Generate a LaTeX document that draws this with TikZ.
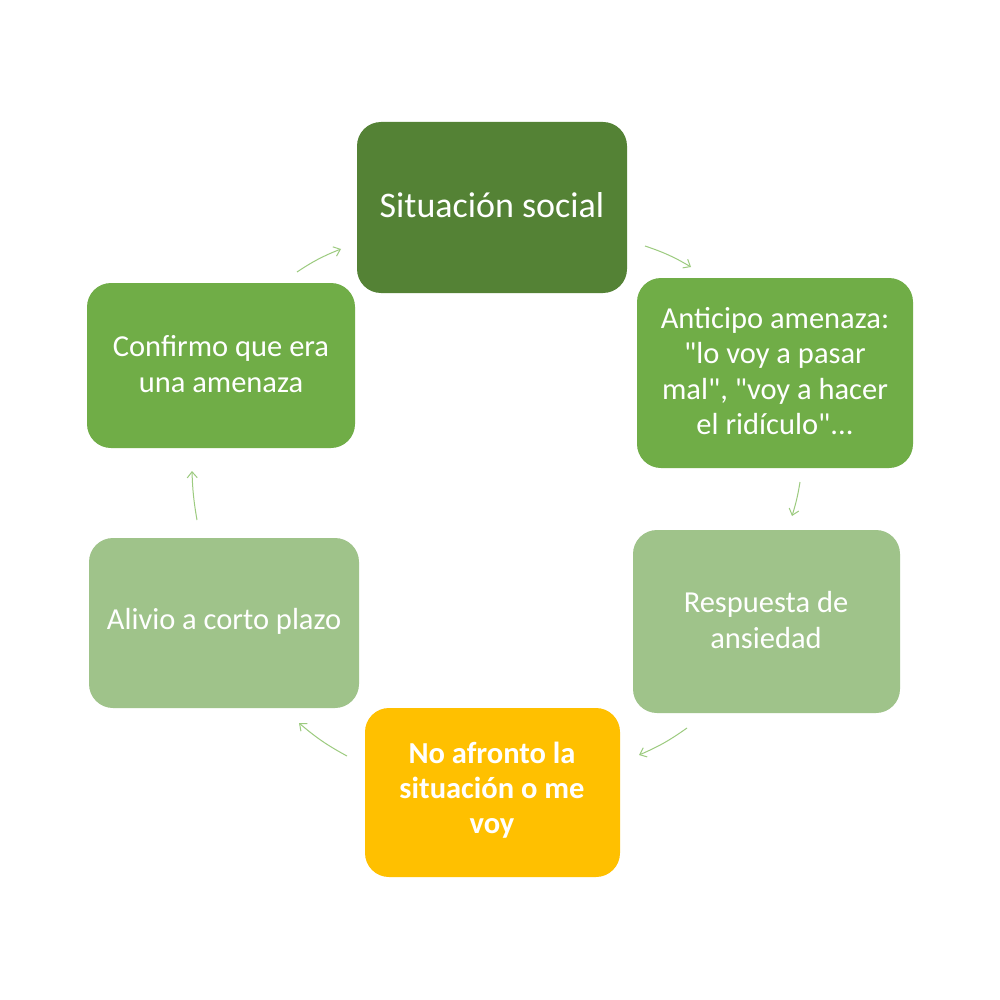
\documentclass[tikz,border=0pt]{standalone}
\usepackage{fontspec}
\setmainfont{Carlito}
\newfontfamily\cfont{Carlito}
\usetikzlibrary{arrows.meta}
\definecolor{gdark}{HTML}{548235}
\definecolor{gmid}{HTML}{70AD47}
\definecolor{glight}{HTML}{9FC38A}
\definecolor{gold}{HTML}{FFC000}
\definecolor{arr}{HTML}{9CCB7F}
\begin{document}
\begin{tikzpicture}[x=1pt,y=-1pt,
  box/.style={text=white,font=\cfont\fontsize{30.5}{35.3}\selectfont,align=center,inner sep=0pt},
  conn/.style={draw=arr,line width=1pt,-{Straight Barb[length=6pt,width=10pt]}}]
\useasboundingbox (0,0) rectangle (1000,1000);
\fill[white] (0,0) rectangle (1000,1000);
% boxes
\fill[gdark,rounded corners=24pt] (357,122) rectangle (627,293);
\node[box,font=\cfont\fontsize{36}{40}\selectfont] (s1) at (492,205) {Situación social};
\fill[gmid,rounded corners=24pt] (637,278) rectangle (913,468);
\node[box] (s2) at (775,371) {Anticipo amenaza:\\"lo voy a pasar\\mal", "voy a hacer\\el ridículo"...};
\fill[glight,rounded corners=24pt] (633,530) rectangle (900,713);
\node[box] (s3) at (766,620) {Respuesta de\\ansiedad};
\fill[gold,rounded corners=24pt] (365,708) rectangle (620,877);
\node[box,font=\cfont\bfseries\fontsize{30.5}{35.3}\selectfont] (s4) at (492,790) {No afronto la\\situación o me\\voy};
\fill[glight,rounded corners=24pt] (89,538) rectangle (359,708);
\node[box] (s5) at (224,621) {Alivio a corto plazo};
\fill[gmid,rounded corners=24pt] (87,283) rectangle (355,448);
\node[box] (s6) at (221,364) {Confirmo que era\\una amenaza};
% arrows
\coordinate (a1s) at (297,272); \coordinate (a1e) at (341,249);
\coordinate (a2s) at (645,246); \coordinate (a2e) at (691,267);
\coordinate (a3s) at (800,482); \coordinate (a3e) at (792,516);
\coordinate (a4s) at (687,728); \coordinate (a4e) at (639,755);
\coordinate (a5s) at (347,756); \coordinate (a5e) at (299,723);
\coordinate (a6s) at (197,520); \coordinate (a6e) at (192,471);
\draw[conn] (a1s) to[bend left=6] (a1e);
\draw[conn] (a2s) to[bend left=6] (a2e);
\draw[conn] (a3s) to[bend left=4] (a3e);
\draw[conn] (a4s) to[bend left=6] (a4e);
\draw[conn] (a5s) to[bend left=6] (a5e);
\draw[conn] (a6s) to[bend left=4] (a6e);
\end{tikzpicture}
\end{document}
